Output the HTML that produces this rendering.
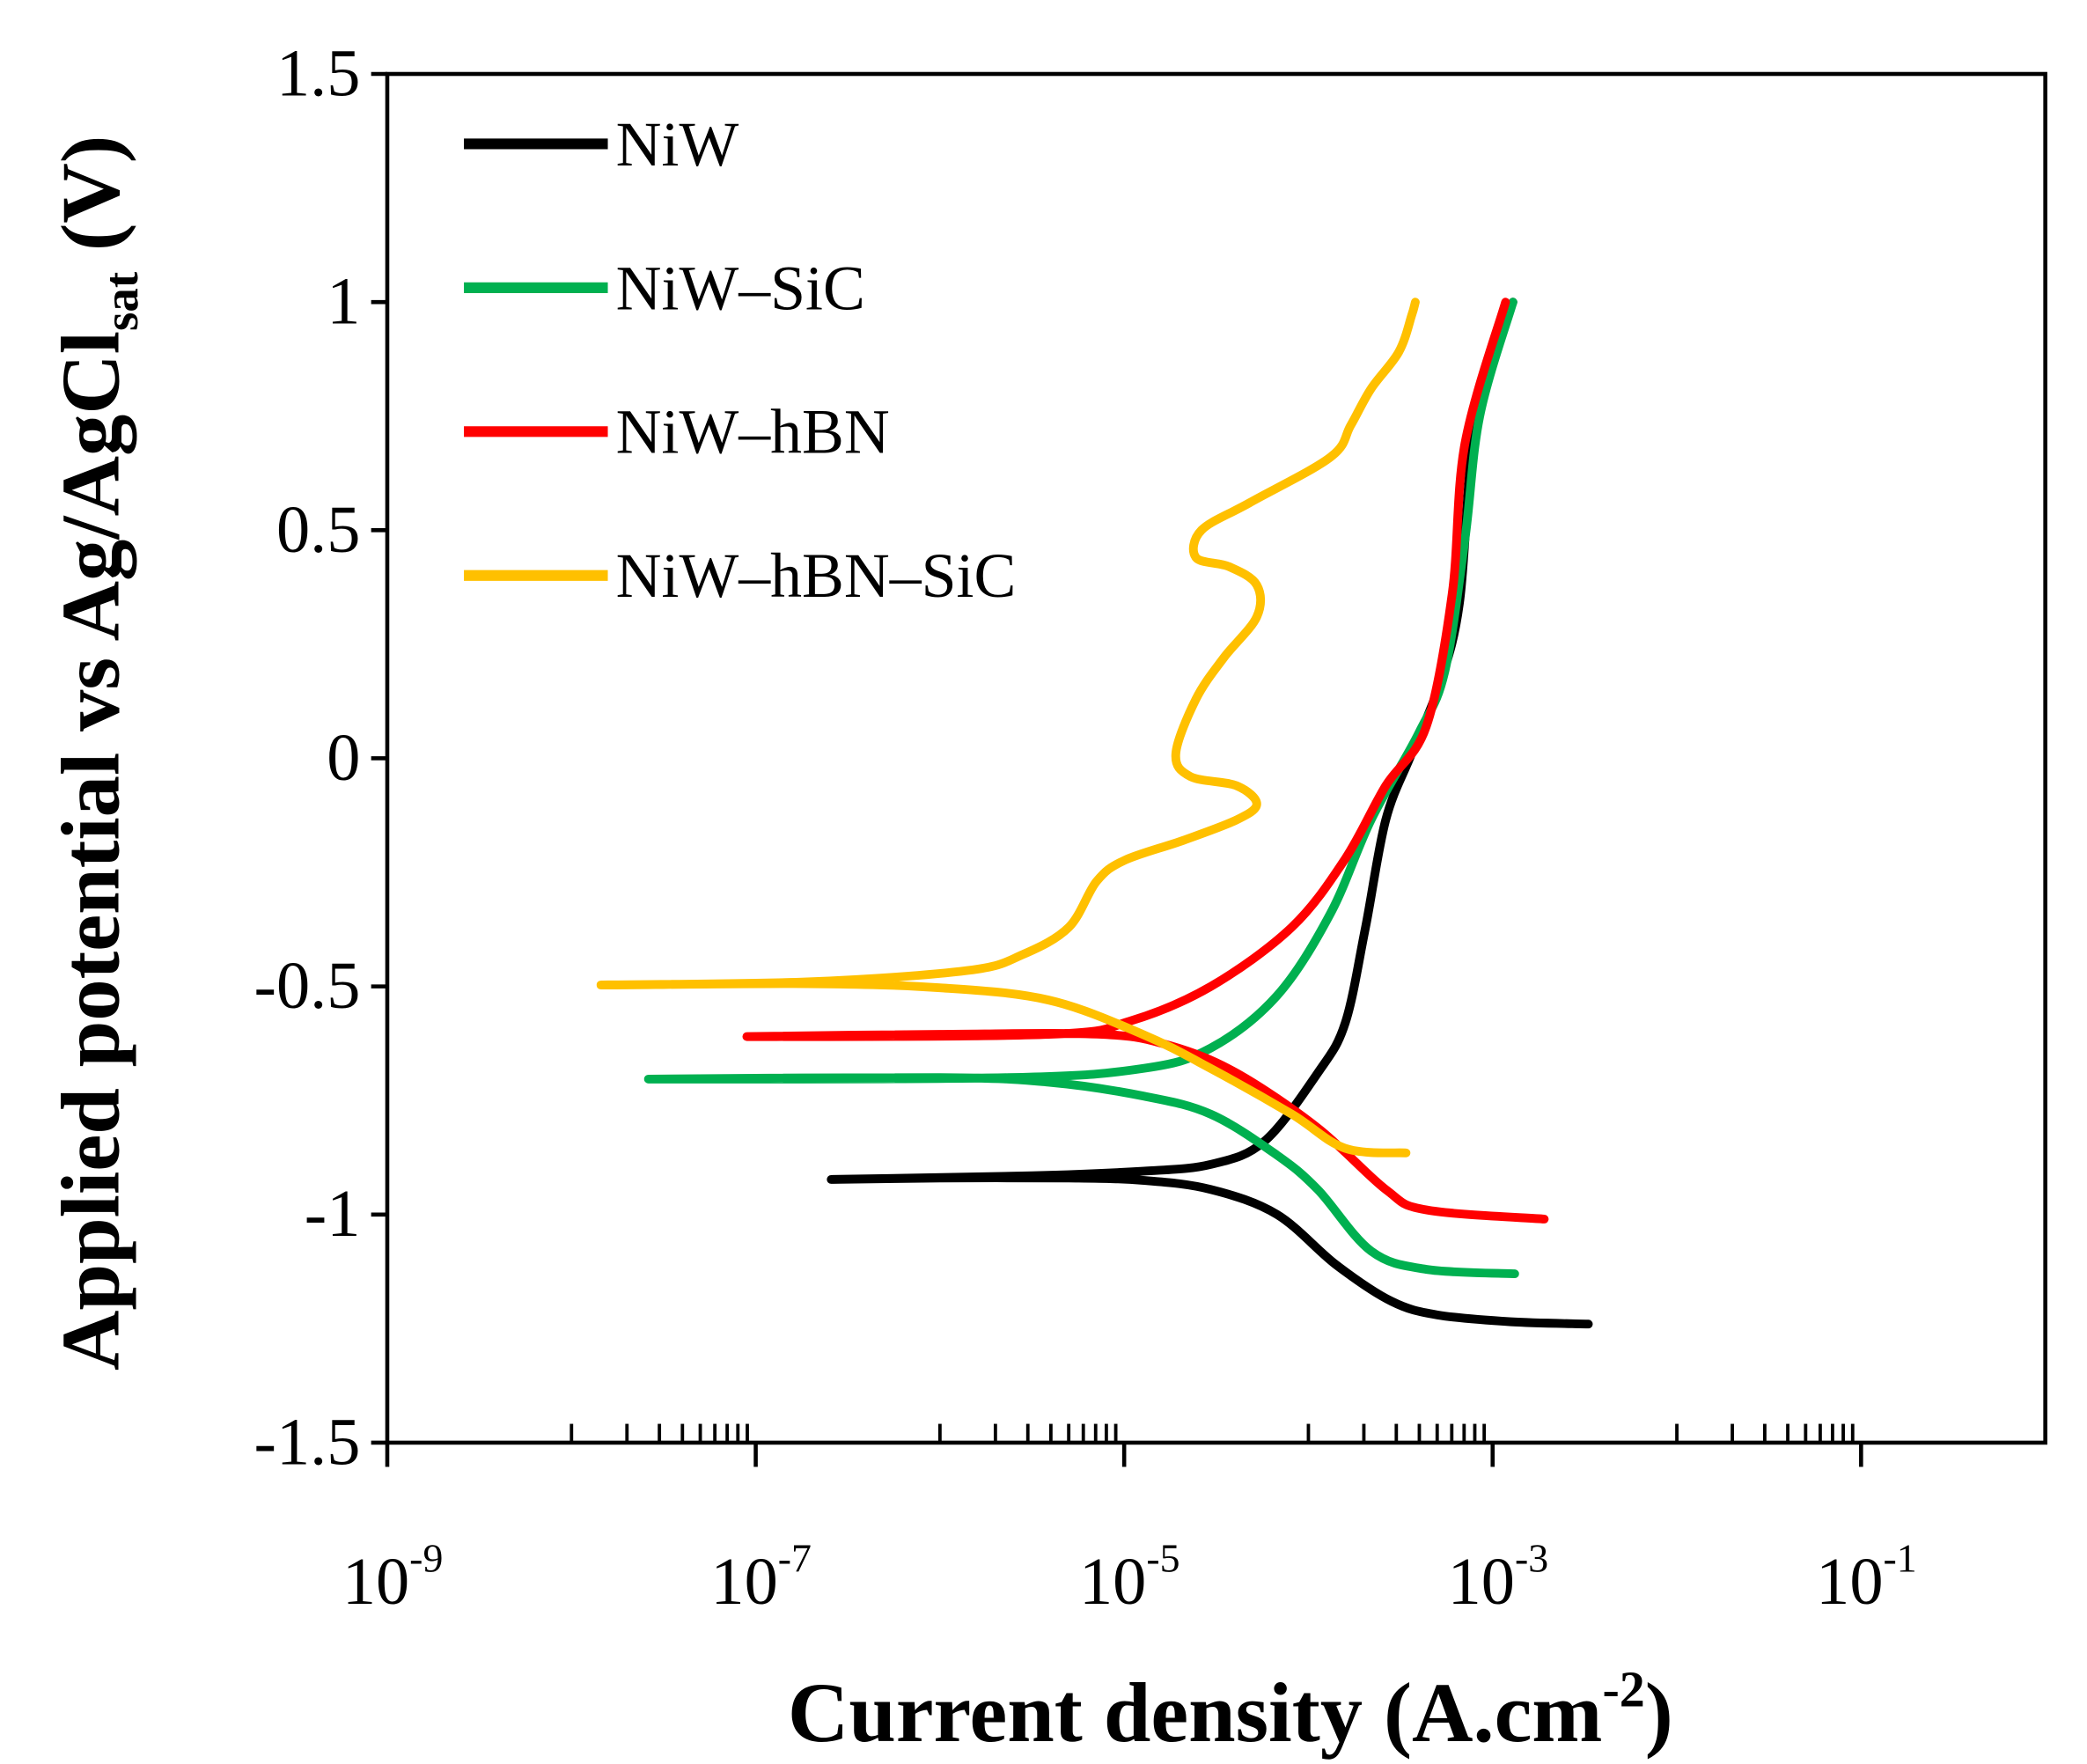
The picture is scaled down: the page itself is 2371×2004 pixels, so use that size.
<!DOCTYPE html>
<html><head><meta charset="utf-8"><style>
html,body{margin:0;padding:0;background:#fff}
svg{display:block}
text{font-family:"Liberation Serif",serif;fill:#000}
</style></head><body>
<svg id="chart" width="2371" height="2004" viewBox="0 0 1552 1312" preserveAspectRatio="none" xmlns="http://www.w3.org/2000/svg">
<rect x="0" y="0" width="1552" height="1312" fill="#fff"/>
<g id="series"></g>
<rect x="288" y="55" width="1233" height="1018" fill="none" stroke="#000" stroke-width="3"/>
<g id="axes"></g>
<text transform="translate(88,560) rotate(-90)" text-anchor="middle" font-size="62" font-weight="bold">Applied potential vs Ag/AgCl<tspan font-size="36" dy="14">sat</tspan><tspan dy="-14"> (V)</tspan></text>
<text x="915" y="1295" text-anchor="middle" font-size="63" font-weight="bold">Current density (A.cm<tspan font-size="38" dy="-26">-2</tspan><tspan dy="26">)</tspan></text>
<g id="legend"></g>
</svg>
<script>
const yTicks=[1.5,1,0.5,0,-0.5,-1,-1.5];
const yTickLabels=["1.5","1","0.5","0","-0.5","-1","-1.5"];
const xMajor=[-9,-7,-5,-3,-1];
const seriesNames=["NiW","NiW–SiC","NiW–hBN","NiW–hBN–SiC"];
const seriesColors=["#000000","#00b050","#ff0000","#ffc000"];
const niwLogI=[-2.48,-2.9,-3.3,-3.55,-3.85,-4.17,-4.53,-4.9,-5.3,-6.0,-6.58,-5.5,-4.9,-4.53,-4.24,-3.95,-3.8,-3.69,-3.58,-3.44,-3.29,-3.18,-3.11,-3.0,-2.89];
const niwE=[-1.24,-1.235,-1.22,-1.19,-1.11,-1.0,-0.945,-0.925,-0.92,-0.92,-0.923,-0.915,-0.905,-0.89,-0.84,-0.69,-0.58,-0.37,-0.135,0.01,0.16,0.34,0.69,0.89,1.0];
const sicLogI=[-2.88,-3.36,-3.66,-3.95,-4.17,-4.53,-4.9,-5.41,-6.0,-7.58,-5.63,-4.9,-4.53,-4.17,-3.88,-3.66,-3.4,-3.26,-3.15,-3.07,-2.89];
const sicE=[-1.13,-1.12,-1.08,-0.945,-0.87,-0.78,-0.74,-0.71,-0.70,-0.703,-0.70,-0.68,-0.635,-0.52,-0.34,-0.135,0.056,0.19,0.48,0.75,1.0];
const hbnLogI=[-2.72,-3.36,-3.58,-3.95,-4.39,-4.75,-5.12,-6.0,-7.04,-5.41,-4.97,-4.53,-4.09,-3.8,-3.58,-3.36,-3.22,-3.15,-2.93];
const hbnE=[-1.01,-0.99,-0.945,-0.81,-0.69,-0.63,-0.605,-0.605,-0.61,-0.605,-0.576,-0.50,-0.37,-0.22,-0.06,0.07,0.36,0.69,1.0];
const hsLogI=[-3.47,-3.8,-4.09,-4.53,-4.9,-5.41,-6.0,-6.72,-7.84,-6.72,-5.85,-5.55,-5.3,-5.15,-5.0,-4.68,-4.39,-4.28,-4.39,-4.64,-4.72,-4.61,-4.46,-4.28,-4.28,-4.43,-4.61,-4.58,-4.32,-3.88,-3.77,-3.66,-3.51,-3.44,-3.42];
const hsE=[-0.865,-0.855,-0.78,-0.68,-0.605,-0.53,-0.503,-0.494,-0.497,-0.49,-0.465,-0.43,-0.37,-0.27,-0.224,-0.18,-0.135,-0.1,-0.06,-0.04,0.01,0.13,0.22,0.31,0.38,0.42,0.44,0.5,0.56,0.66,0.73,0.81,0.89,0.97,1.0];
const seriesLogI=[niwLogI,sicLogI,hbnLogI,hsLogI];
const seriesE=[niwE,sicE,hbnE,hsE];

const NS="http://www.w3.org/2000/svg";
const L=288,R=1521,T=55,B=1073;
function xs(lg){return L+(lg+9)/9*(R-L);}
function ys(e){return B-(e+1.5)/3*(B-T);}
function mk(tag,attrs,parent){const el=document.createElementNS(NS,tag);for(const k in attrs)el.setAttribute(k,attrs[k]);parent.appendChild(el);return el;}
function smoothPath(P){
  let d='M'+P[0][0].toFixed(1)+','+P[0][1].toFixed(1);
  for(let i=0;i<P.length-1;i++){
    const p0=P[i-1]||P[i],p1=P[i],p2=P[i+1],p3=P[i+2]||P[i+1];
    const c1=[p1[0]+(p2[0]-p0[0])/6,p1[1]+(p2[1]-p0[1])/6];
    const c2=[p2[0]-(p3[0]-p1[0])/6,p2[1]-(p3[1]-p1[1])/6];
    d+=' C'+c1[0].toFixed(1)+','+c1[1].toFixed(1)+' '+c2[0].toFixed(1)+','+c2[1].toFixed(1)+' '+p2[0].toFixed(1)+','+p2[1].toFixed(1);
  }
  return d;
}
const axes=document.getElementById('axes');
yTicks.forEach((v,i)=>{
  const t=mk('line',{x1:L-12,x2:L,y1:ys(v),y2:ys(v),stroke:'#000','stroke-width':3},axes);
  
  
  const tx=mk('text',{x:L-20,y:ys(v)+16,'text-anchor':'end','font-size':50},axes);
  
  
  tx.textContent=yTickLabels[i];
});
xMajor.forEach(d=>{
  const t=mk('line',{x1:xs(d),x2:xs(d),y1:B,y2:B+18,stroke:'#000','stroke-width':3},axes);
  
  
  const tx=mk('text',{x:xs(d)+4,y:B+120,'text-anchor':'middle','font-size':50},axes);
  
  
  tx.textContent='10';
  const sp=mk('tspan',{'font-size':30,dy:-24},tx);
  sp.textContent=String(d);
});
[-8,-6,-4,-2].forEach(d=>{
  for(let k=1;k<=9;k++){
    const x=xs(d+Math.log10(k));
    const t=mk('line',{x1:x,x2:x,y1:B-14,y2:B,stroke:'#000','stroke-width':2.5},axes);
    
    
  }
});
const sg=document.getElementById('series');
seriesNames.forEach((n,i)=>{
  const P=seriesLogI[i].map((lg,j)=>[xs(lg),ys(seriesE[i][j])]);
  const p=mk('path',{d:smoothPath(P),fill:'none',stroke:seriesColors[i],'stroke-width':6.5,'stroke-linejoin':'round','stroke-linecap':'round'},sg);
  
  
});
const lg=document.getElementById('legend');
seriesNames.forEach((n,i)=>{
  const y=107+i*107;
  const g=mk('g',{},lg);
  
  
  mk('line',{x1:345,x2:452,y1:y,y2:y,stroke:seriesColors[i],'stroke-width':8},g);
  const t=mk('text',{x:458,y:y+16,'font-size':47},g);
  t.textContent=n;
});
</script>
</body></html>
